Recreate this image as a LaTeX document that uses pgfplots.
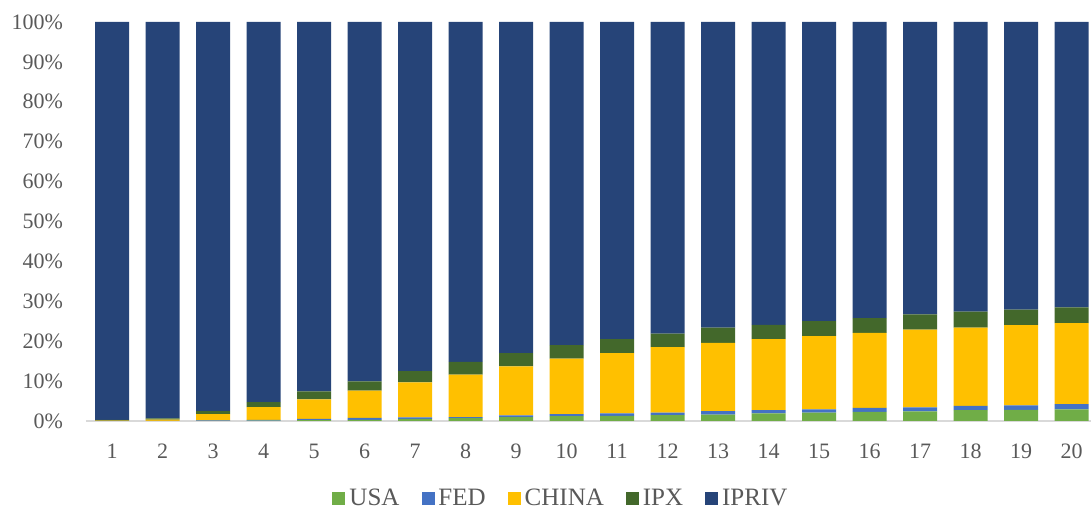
\documentclass[border=0pt]{standalone}
\usepackage{fontspec}
\setmainfont{Liberation Serif}
\usepackage{pgfplots}
\usepackage{pgfplotstable}
\pgfplotsset{compat=1.18}
\definecolor{cUSA}{RGB}{112,173,71}
\definecolor{cFED}{RGB}{68,114,196}
\definecolor{cCHINA}{RGB}{255,192,0}
\definecolor{cIPX}{RGB}{67,104,43}
\definecolor{cIPRIV}{RGB}{38,68,120}
\definecolor{txt}{RGB}{89,89,89}
\definecolor{axl}{RGB}{217,217,217}
\pgfplotstableread{
x usa fed china ipx ipriv
1  0.0  0.0  0.1  0.2  99.7
2  0.0  0.05 0.3  0.3  99.35
3  0.05 0.1  1.6  0.75 97.5
4  0.1  0.15 3.25 1.25 95.25
5  0.2  0.3  4.9  2.0  92.6
6  0.3  0.5  6.8  2.3  90.1
7  0.5  0.4  8.8  2.8  87.5
8  0.7  0.3  10.6 3.2  85.2
9  1.0  0.4  12.3 3.3  83.0
10 1.2  0.5  13.9 3.4  81.0
11 1.3  0.6  15.1 3.5  79.5
12 1.5  0.6  16.4 3.4  78.1
13 1.6  0.9  17.1 3.8  76.6
14 1.9  0.8  17.8 3.6  75.9
15 2.1  0.8  18.4 3.7  75.0
16 2.3  1.0  18.8 3.7  74.2
17 2.4  1.0  19.5 3.8  73.3
18 2.7  1.1  19.6 4.0  72.6
19 2.8  1.1  20.1 3.9  72.1
20 2.9  1.3  20.3 4.0  71.5
}\datatable
\begin{document}
\begin{tikzpicture}
\begin{axis}[
  at={(0,0)}, anchor=south west,
  scale only axis, width=502.5pt, height=199.5pt,
  ybar stacked, bar width=17pt,
  ymin=0, ymax=100, xmin=0.485, xmax=20.386,
  axis x line*=bottom, axis y line*=left,
  x axis line style={draw=axl, line width=0.8pt},
  y axis line style={draw=none},
  major tick length=0pt,
  xtick={1,...,20},
  xticklabels={1,2,3,4,5,6,7,8,9,10,11,12,13,14,15,16,17,18,19,20},
  ytick={0,10,...,100},
  yticklabels={0\%,10\%,20\%,30\%,40\%,50\%,60\%,70\%,80\%,90\%,100\%},
  tick label style={font=\fontsize{11}{13}\selectfont, text=txt},
  xticklabel style={yshift=-8pt},
  yticklabel style={xshift=-8pt},
  legend columns=5,
  legend style={draw=none, at={(0.4736,-0.1955)}, anchor=center,
    font=\fontsize{12.5}{14}\selectfont, text=txt,
    /tikz/every even column/.append style={column sep=9pt}},
  legend image code/.code={\fill[#1,draw=none] (0pt,-3.25pt) rectangle (6.5pt,3.25pt);},
]
\addplot[fill=cUSA, draw=none] table[x=x,y=usa] {\datatable};
\addplot[fill=cFED, draw=none] table[x=x,y=fed] {\datatable};
\addplot[fill=cCHINA, draw=none] table[x=x,y=china] {\datatable};
\addplot[fill=cIPX, draw=none] table[x=x,y=ipx] {\datatable};
\addplot[fill=cIPRIV, draw=none] table[x=x,y=ipriv] {\datatable};
\legend{USA,FED,CHINA,IPX,IPRIV}
\end{axis}
\pgfresetboundingbox
\path[use as bounding box] (-43pt,-45.5pt) rectangle (502.5pt,210.5pt);
\end{tikzpicture}
\end{document}
